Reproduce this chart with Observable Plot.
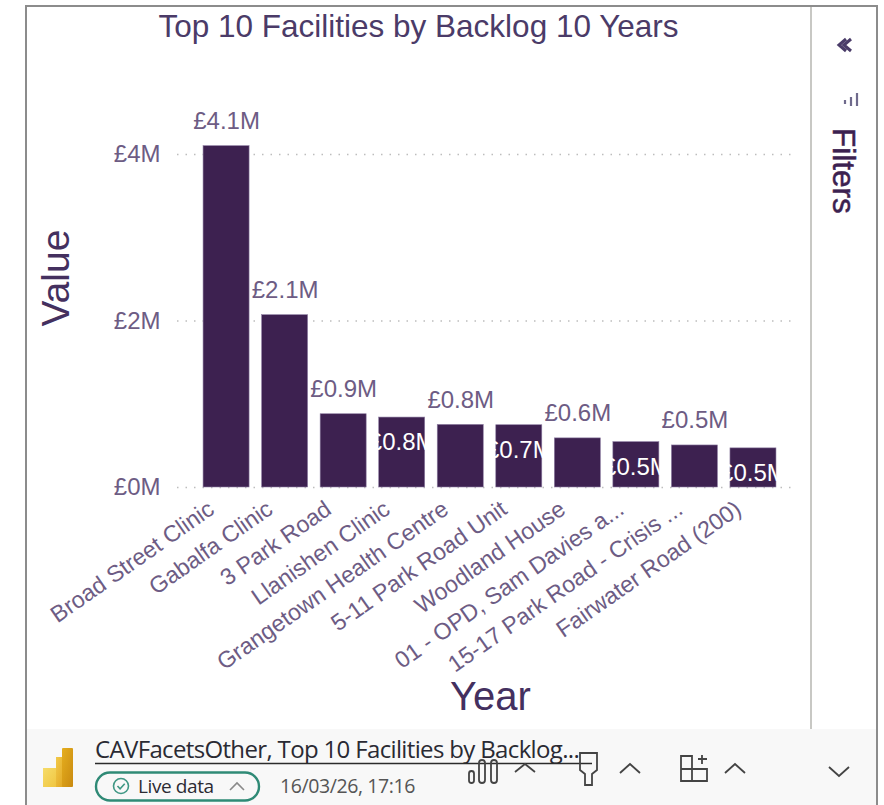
<!DOCTYPE html>
<html>
<head>
<meta charset="utf-8">
<script src="https://cdn.jsdelivr.net/npm/d3@7"></script>
<script src="https://cdn.jsdelivr.net/npm/@observablehq/plot@0.6"></script>
<style>
  html, body { margin: 0; background: #fff; }
  #page { position: relative; width: 884px; height: 805px; overflow: hidden; font-family: "Liberation Sans", Arial, sans-serif; }
  #page > * { position: absolute; }
  #frameTop { left: 26px; right: 7px; top: 5px; height: 2px; background: #8c8c8c; }
  #frameLeft { left: 25px; top: 5px; width: 2px; bottom: 0; background: #8c8c8c; }
  #frameRight { left: 876px; top: 5px; width: 2px; bottom: 0; background: #8c8c8c; }
  #divider { left: 810px; top: 7px; width: 2px; height: 722px; background: #c8c8c4; }
  #strip { left: 27px; top: 729px; width: 849px; height: 76px; background: #f8f8f8; }
  #title { left: 27px; width: 783px; top: 8px; text-align: center; font-size: 31.5px; line-height: 36px; color: #4b3b68; white-space: nowrap; }
  #filters { left: 829px; top: 128px; font-size: 31.5px; line-height: 36px; color: #3c2150; -webkit-text-stroke: 0.5px #3c2150; transform-origin: 0 0; transform: translate(33px, 0) rotate(90deg); white-space: nowrap; }
  #report { left: 95px; top: 735px; font: 24px/28px "Open Sans", sans-serif; color: #2a2a33; letter-spacing: -0.65px; white-space: nowrap; }
  #live { left: 138px; top: 775px; font: 19px/22px "Open Sans", sans-serif; color: #2b2b33; letter-spacing: -0.4px; white-space: nowrap; }
  #stamp { left: 280px; top: 775px; font: 19.5px/22px "Open Sans", sans-serif; color: #555; letter-spacing: -0.4px; white-space: nowrap; }
  #chrome { left: 0; top: 0; }
</style>
</head>
<body>
<div id="page">
  <div id="strip"></div>
  <div id="frameTop"></div>
  <div id="frameLeft"></div>
  <div id="frameRight"></div>
  <div id="divider"></div>
  <div id="title">Top 10 Facilities by Backlog 10 Years</div>
  <div id="filters">Filters</div>
  <div id="report">CAVFacetsOther, Top 10 Facilities by Backlog...</div>
  <div id="live">Live data</div>
  <div id="stamp">16/03/26, 17:16</div>
  <svg id="chrome" width="884" height="805" fill="none">
    <defs>
      <linearGradient id="gLight" x1="0" y1="0" x2="1" y2="1"><stop offset="0" stop-color="#f6dc6a"/><stop offset="1" stop-color="#f0c53f"/></linearGradient>
      <linearGradient id="gMid" x1="0" y1="0" x2="1" y2="1"><stop offset="0" stop-color="#f2c94a"/><stop offset="1" stop-color="#e0a41f"/></linearGradient>
      <linearGradient id="gDark" x1="0" y1="0" x2="1" y2="1"><stop offset="0" stop-color="#e5ae1e"/><stop offset="1" stop-color="#c98a10"/></linearGradient>
    </defs>
    <!-- Collapse arrows and funnel in the filter rail -->
    <path d="M851 39 l-7 6 l7 6 M846 39 l-7 6 l7 6" stroke="#4a3c69" stroke-width="3"/>
    <path d="M857 93 v13 M851 97 v9 M845 100 v4" stroke="#6f6a8c" stroke-width="2.2"/>
    <!-- Product logo -->
    <rect x="43" y="768" width="14" height="19" fill="url(#gLight)"/>
    <rect x="56" y="757" width="9" height="30" fill="url(#gMid)"/>
    <rect x="62" y="748" width="11" height="39" rx="1" fill="url(#gDark)"/>
    <!-- Title underline -->
    <line x1="95" x2="592" y1="763.5" y2="763.5" stroke="#2b2b2b" stroke-width="1.6"/>
    <!-- Live data pill -->
    <rect x="96" y="772.5" width="163" height="28" rx="14" stroke="#2f8a76" stroke-width="2.4"/>
    <circle cx="121" cy="786" r="7.5" stroke="#3f9784" stroke-width="1.6"/>
    <path d="M117.5 786 l2.6 2.8 l4.6 -5" stroke="#3f9784" stroke-width="1.6"/>
    <path d="M230 790 l7 -7 l7 7" stroke="#8a8a8a" stroke-width="1.6"/>
    <!-- Toolbar icons -->
    <g stroke="#444" stroke-width="1.8">
      <rect x="469" y="771" width="5" height="12" rx="2.5"/>
      <rect x="479" y="760" width="6" height="23" rx="3"/>
      <rect x="491" y="760" width="6" height="23" rx="3"/>
      <path d="M515 772 l10 -8 l10 8"/>
      <path d="M580 753 h17 v17 l-5 4 v11 h-7 v-11 l-5 -4 z"/>
      <path d="M620 773 l10 -9 l10 9"/>
      <path d="M681 756 h11 v25 h-11 z M692 769 h-11 M692 769 h15 v12 h-15"/>
      <path d="M702 755 v9 M698 759 h9"/>
      <path d="M725 773 l10 -9 l10 9"/>
      <path d="M829 767 l10 9 l10 -9"/>
    </g>
  </svg>
</div>
<script>
// Ten facilities with the largest ten-year backlog, in £ millions
const facilities = [
  "Broad Street Clinic", "Gabalfa Clinic", "3 Park Road", "Llanishen Clinic",
  "Grangetown Health Centre", "5-11 Park Road Unit", "Woodland House",
  "01 - OPD, Sam Davies a...", "15-17 Park Road - Crisis ...", "Fairwater Road (200)"
];
const backlog = [4.1, 2.07, 0.88, 0.84, 0.752, 0.748, 0.59, 0.545, 0.505, 0.47];
const yTicks = [0, 2, 4];

const rows = facilities.map((name, i) => ({name, value: backlog[i], inside: i >= 3 && i % 2 === 1}));
const money = v => `£${v.toFixed(1)}M`;

const ink = "#3d2150";
const soft = "#6d5c84";

const chart = Plot.plot({
  width: 884,
  height: 805,
  marginLeft: 177,
  marginRight: 89,
  marginTop: 129,
  marginBottom: 318,
  style: {background: "transparent", fontFamily: "'Liberation Sans', Arial, sans-serif", overflow: "visible"},
  x: {domain: facilities, paddingInner: 0.214, paddingOuter: 0.385, align: 0.578, round: false, label: null},
  y: {domain: [0, 4.3], label: null},
  marks: [
    Plot.ruleY(yTicks, {stroke: "#bdbdbd", strokeDasharray: "1.5 7", strokeWidth: 1.4}),
    Plot.barY(rows, {x: "name", y: "value", fill: ink, stroke: "#8f7fa3", strokeWidth: 0.6}),
    Plot.axisY({
      ticks: yTicks, tickSize: 0, tickPadding: 17, fontSize: 24,
      tickFormat: d => `£${d}M`, color: soft, label: null
    }),
    Plot.axisX({
      tickSize: 0, tickPadding: 6, fontSize: 23.2, tickRotate: -35, dx: -15, dy: 13,
      color: soft, label: null, lineWidth: 100, textOverflow: null
    }),
    // Labels sit above the taller bars and inside every other short bar
    Plot.text(rows.filter(d => !d.inside), {
      x: "name", y: "value", text: d => money(d.value),
      dy: -25, fontSize: 24, fill: soft
    }),
    Plot.text(rows.filter(d => d.inside), {
      x: "name", y: "value", text: d => money(d.value),
      dy: 25, fontSize: 24, fill: "#fff", fontWeight: 400
    }),
    Plot.text(["Year"], {frameAnchor: "bottom", dy: 222, dx: 4, fontSize: 40, fill: "#44305f", text: d => d}),
    Plot.text(["Value"], {frameAnchor: "left", dx: -121, dy: 18, rotate: -90, fontSize: 39, fill: "#44305f", text: d => d})
  ]
});
chart.style.position = "absolute";
chart.style.left = "0";
chart.style.top = "0";
document.getElementById("page").appendChild(chart);
</script>
</body>
</html>
